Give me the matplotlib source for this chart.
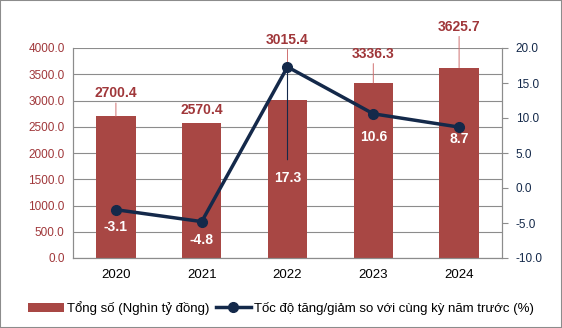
import matplotlib.pyplot as plt

years = ["2020", "2021", "2022", "2023", "2024"]
total = [2700.4, 2570.4, 3015.4, 3336.3, 3625.7]
growth = [-3.1, -4.8, 17.3, 10.6, 8.7]

bar_color = "#A84744"
line_color = "#14294A"
red_text = "#A0373A"

plt.rcParams['font.family'] = ['Liberation Sans', 'DejaVu Sans']

fig = plt.figure(figsize=(5.62, 3.28), dpi=100)
ax = fig.add_axes([73 / 562, 1 - 258 / 328, 429 / 562, 210 / 328])
ax2 = ax.twinx()

x = list(range(len(years)))
ax.bar(x, total, width=0.46, color=bar_color, zorder=2, label="Tổng số (Nghìn tỷ đồng)")
ax.set_ylim(0, 4000)
ax.set_yticks(range(0, 4001, 500))
ax.set_yticklabels([f"{v:.1f}" for v in range(0, 4001, 500)], color=red_text, fontsize=8.5)
ax.set_xlim(-0.5, 4.5)
ax.set_xticks(x)
ax.set_xticklabels(years, fontsize=9.5)
ax.grid(axis="y", color="#8c8c8c", linewidth=0.8, zorder=0)
ax.set_axisbelow(True)
for s in ["left", "right", "bottom", "top"]:
    ax.spines[s].set_color("#8c8c8c")
    ax2.spines[s].set_color("#8c8c8c")
ax.spines["top"].set_visible(False)
ax2.spines["top"].set_visible(False)
ax.tick_params(axis="both", length=0, pad=6)
ax.tick_params(axis="x", pad=8)

ax2.plot(x, growth, color=line_color, linewidth=2.5, marker="o", markersize=7,
         zorder=3, label="Tốc độ tăng/giảm so với cùng kỳ năm trước (%)")
ax2.set_ylim(-10, 20)
ax2.set_yticks(range(-10, 21, 5))
ax2.set_yticklabels([f"{v:.1f}" for v in range(-10, 21, 5)], color=line_color, fontsize=8.5)
ax2.tick_params(axis="y", direction="out", length=4, color="#8c8c8c", pad=6)

# bar labels (offset in pixels above bar top)
bar_offsets = [16, 6, 53, 22, 34]
for xi, v, off in zip(x, total, bar_offsets):
    ax.annotate(f"{v:.1f}", (xi, v), xytext=(0, off), textcoords="offset pixels",
                ha="center", va="bottom", color=red_text, fontsize=10, fontweight="bold",
                arrowprops=dict(arrowstyle="-", color="#d07070", linewidth=0.7,
                                shrinkA=0, shrinkB=0) if off > 8 else None)

# line labels (white, below points)
line_offsets = [-17, -18, -111, -23, -12]
for xi, v, off in zip(x, growth, line_offsets):
    ax2.annotate(f"{v:.1f}", (xi, v), xytext=(0, off), textcoords="offset pixels",
                 ha="center", va="center", color="white", fontsize=10, fontweight="bold",
                 arrowprops=dict(arrowstyle="-", color=line_color, linewidth=0.8,
                                 shrinkA=6, shrinkB=0) if off < -50 else None)

h1, l1 = ax.get_legend_handles_labels()
h2, l2 = ax2.get_legend_handles_labels()
fig.legend(h1 + h2, l1 + l2, loc="center", bbox_to_anchor=(0.5, 1 - 308 / 328), ncol=2,
           frameon=False, fontsize=9.5, handlelength=2.7, handletextpad=0.2, columnspacing=0.5)

fig.patches.append(plt.Rectangle((0, 0), 1, 1, transform=fig.transFigure, fill=False,
                                 edgecolor="#8c8c8c", linewidth=1.5))

fig.savefig("out.png", dpi=100)
